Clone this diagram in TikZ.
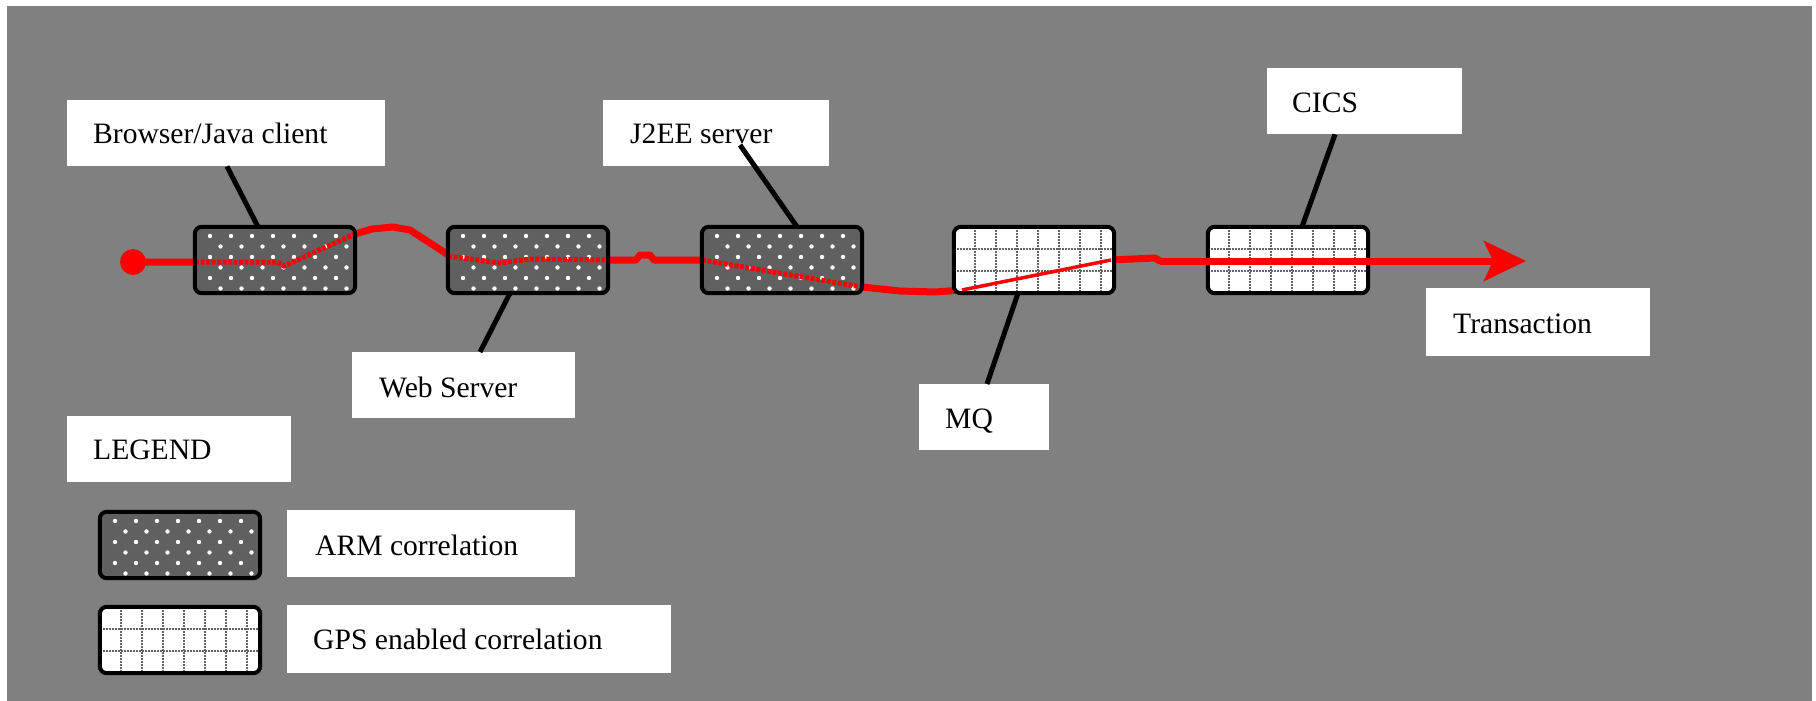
\documentclass[tikz,border=0pt]{standalone}
\usepackage{fontspec}
\setmainfont{Liberation Serif}
\usetikzlibrary{arrows.meta,calc}
\definecolor{bggray}{RGB}{128,128,128}
\definecolor{armfill}{RGB}{96,96,96}
\definecolor{gridgray}{RGB}{100,100,100}
\definecolor{tred}{RGB}{255,0,0}
\begin{document}
\begin{tikzpicture}[x=1pt,y=-1pt,
  lbl/.style={fill=white, draw=none, inner sep=0pt, anchor=north west},
  txt/.style={anchor=base west, inner sep=0pt, font=\fontsize{29.6}{34}\selectfont},
  boxbase/.style={draw=none, minimum width=160pt, minimum height=66pt, inner sep=0pt, rounded corners=7pt},
  armbox/.style={boxbase, fill=armfill, path picture={
      \foreach \r in {0,...,5}{\foreach \c in {0,...,7}{
        \pgfmathsetmacro\dx{15+21*\c+10.5*mod(\r,2)}
        \pgfmathsetmacro\dy{9+10.5*\r}
        \fill[white] ([shift={(\dx,\dy)}]path picture bounding box.north west) circle (2.2pt);
      }}}},
  gpsbox/.style={boxbase, fill=white, path picture={
      \foreach \k in {1,...,7}{
        \draw[gridline] ([shift={({21*\k},0)}]path picture bounding box.north west) -- ([shift={({21*\k},0)}]path picture bounding box.south west);}
      \foreach \h in {22,44}{
        \draw[gridline] ([shift={(0,\h)}]path picture bounding box.north west) -- ([shift={(0,\h)}]path picture bounding box.north east);}
      }},
  gridline/.style={draw=gridgray, line width=1.6pt, dash pattern=on 1.5pt off 1.5pt},
  border/.style={draw=black, line width=4pt, rounded corners=7pt},
  leader/.style={draw=black, line width=5pt},
  flow/.style={draw=tred, line width=7pt, line join=round, line cap=round},
  armred/.style={draw=tred, line width=5pt, dash pattern=on 4pt off 1.5pt},
  thinred/.style={draw=tred, line width=3.5pt},
]
\useasboundingbox (0,0) rectangle (1816,701);
\fill[white] (0,0) rectangle (1816,701);
\fill[bggray] (7,6) rectangle (1812,701);

% red transaction flow (beneath boxes)
\node[circle, fill=tred, draw=none, minimum size=26pt, inner sep=0pt] (start) at (133,262) {};
\coordinate (tend) at (1526,261);
\draw[flow] (start.center) -- (277,262) -- (284,266) -- (355,234) -- (372,229) -- (393,227)
  -- (410,230) -- (430,243) -- (450,256) -- (500,263) -- (530,259) -- (610,260) -- (636,260)
  -- (640,255) -- (650,255) -- (654,260) -- (702,260) -- (862,287) -- (900,291) -- (935,292)
  -- (962,290) -- (1111,260) -- (1155,258) -- (1160,261);

% processing boxes
\node[armbox] (b1) at (275,260) {};
\node[armbox] (b2) at (528,260) {};
\node[armbox] (b3) at (782,260) {};
\node[gpsbox] (b4) at (1034,260) {};
\node[gpsbox] (b5) at (1288,260) {};
\node[armbox] (la) at (180,545) {};
\node[gpsbox] (lg) at (180,640) {};

% red flow seen through boxes
\draw[armred] (195,262) -- (277,262) -- (284,266) -- (355,234);
\draw[armred] (448,256) -- (500,263) -- (530,259) -- (610,260);
\draw[armred] (702,260) -- (862,287);
\draw[thinred] (962,290) -- (1111,260);

% box borders
\foreach \n in {b1,b2,b3,b4,b5,la,lg}{
  \draw[border] (\n.north west) rectangle (\n.south east);
}

% arrow through CICS
\draw[flow, line cap=butt, -{Stealth[length=42pt,width=40pt,inset=9pt]}] (1160,261) -- (tend);

% labels
\node[lbl, minimum width=318pt, minimum height=66pt] (lbrowser) at (67,100) {};
\node[txt] (tbrowser) at (93,143) {Browser/Java client};
\node[lbl, minimum width=223pt, minimum height=66pt] (lweb) at (352,352) {};
\node[txt] (tweb) at (379,397) {Web Server};
\node[lbl, minimum width=226pt, minimum height=66pt] (lj2ee) at (603,100) {};
\node[txt] (tj2ee) at (630,143) {J2EE server};
\node[lbl, minimum width=130pt, minimum height=66pt] (lmq) at (919,384) {};
\node[txt] (tmq) at (945,428) {MQ};
\node[lbl, minimum width=195pt, minimum height=66pt] (lcics) at (1267,68) {};
\node[txt] (tcics) at (1292,112) {CICS};
\node[lbl, minimum width=224pt, minimum height=68pt] (ltrans) at (1426,288) {};
\node[txt] (ttrans) at (1453,333) {Transaction};
\node[lbl, minimum width=224pt, minimum height=66pt] (llegend) at (67,416) {};
\node[txt] (tlegend) at (93,459) {LEGEND};
\node[lbl, minimum width=288pt, minimum height=67pt] (larm) at (287,510) {};
\node[txt] (tarm) at (315,555) {ARM correlation};
\node[lbl, minimum width=384pt, minimum height=68pt] (lgps) at (287,605) {};
\node[txt] (tgps) at (313,649) {GPS enabled correlation};

% leader lines
\draw[leader] ($(lbrowser.south west)+(160,0)$) -- ($(b1.north)+(-17,0)$);
\draw[leader] ($(b2.south)+(-18,0)$) -- ($(lweb.north west)+(128,0)$);
\draw[leader] ($(lj2ee.north west)+(137,45)$) -- ($(b3.north)+(15,0)$);
\draw[leader] ($(b4.south)+(-16,0)$) -- ($(lmq.north west)+(68,0)$);
\draw[leader] ($(lcics.south west)+(68,0)$) -- ($(b5.north)+(14,0)$);
\end{tikzpicture}
\end{document}
